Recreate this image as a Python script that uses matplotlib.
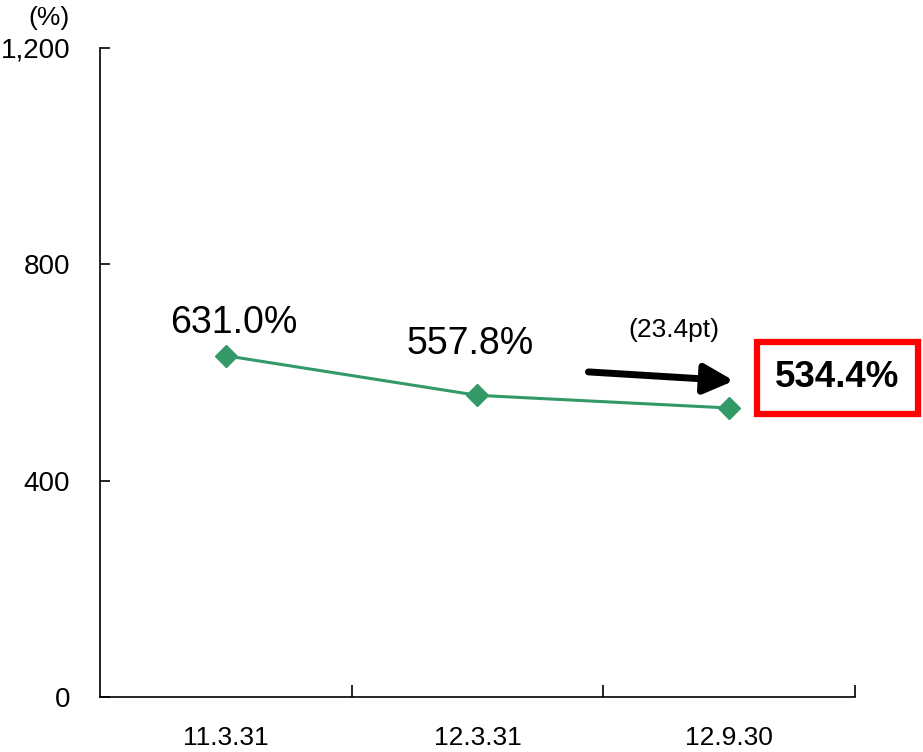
import matplotlib.pyplot as plt
from matplotlib import font_manager
from matplotlib.ticker import FuncFormatter
from matplotlib.patches import FancyArrowPatch

plt.rcParams['font.family'] = ['Liberation Sans', 'DejaVu Sans']

dates = ['11.3.31', '12.3.31', '12.9.30']
ratio = [631.0, 557.8, 534.4]
change_label = '(23.4pt)'
yticks = [0, 400, 800, 1200]

green = '#339966'

# narrow face for the date labels when available
try:
    font_manager.findfont('Liberation Sans Narrow', fallback_to_default=False)
    date_font = 'Liberation Sans Narrow'
    date_size = 23
except ValueError:
    date_font = 'Liberation Sans'
    date_size = 19

fig = plt.figure(figsize=(9.23, 7.52), dpi=100)
ax = fig.add_axes([0.1083, 0.0731, 0.818, 0.8631])

x = list(range(len(dates)))
ax.plot(x, ratio, color=green, lw=2.2, marker='D', ms=11, mec=green, mfc=green)

ax.set_xlim(-0.5, len(dates) - 0.5)
ax.set_ylim(0, 1200)
ax.set_yticks(yticks)
ax.yaxis.set_major_formatter(FuncFormatter(lambda v, p: f'{int(v):,}'))
ax.set_xticks(x)
ax.set_xticklabels(dates)
ax.set_xticks([i + 0.5 for i in x], minor=True)

for s in ['top', 'right']:
    ax.spines[s].set_visible(False)
for s in ['left', 'bottom']:
    ax.spines[s].set_linewidth(1.2)
ax.tick_params(axis='y', direction='in', length=7, width=1.2, labelsize=20, pad=21.5)
ax.tick_params(axis='x', which='major', length=0, labelsize=date_size, pad=21)
ax.tick_params(axis='x', which='minor', direction='in', length=9, width=1.2)
for lbl in ax.get_xticklabels():
    lbl.set_family([date_font, 'Liberation Sans'])

fig.text(49 / 923, 1 - 18 / 752, '(%)', fontsize=19, ha='center', va='center')

# value labels above the first two points
ax.text(x[0] + 0.03, ratio[0] + 60, f'{ratio[0]:.1f}%', fontsize=27, ha='center', va='center')
ax.text(x[1] - 0.03, ratio[1] + 94, f'{ratio[1]:.1f}%', fontsize=27, ha='center', va='center')

# change note and arrow toward the latest value
ax.text(x[2] - 0.22, ratio[2] + 144, change_label, fontsize=19, ha='center', va='center')
ax.add_patch(FancyArrowPatch((x[2] - 0.57, ratio[2] + 67), (x[2] + 0.03, ratio[2] + 50),
                             arrowstyle='-|>,head_length=12,head_width=6', mutation_scale=1.5,
                             color='black', lw=5))

ax.text(x[2] + 0.43, ratio[2] + 56, f'{ratio[2]:.1f}%', fontsize=26.5, fontweight='bold',
        ha='center', va='center', clip_on=False,
        bbox=dict(boxstyle='square,pad=0.5', fc='white', ec='#ff0000', lw=4.5))

fig.savefig('out.png', dpi=100)
